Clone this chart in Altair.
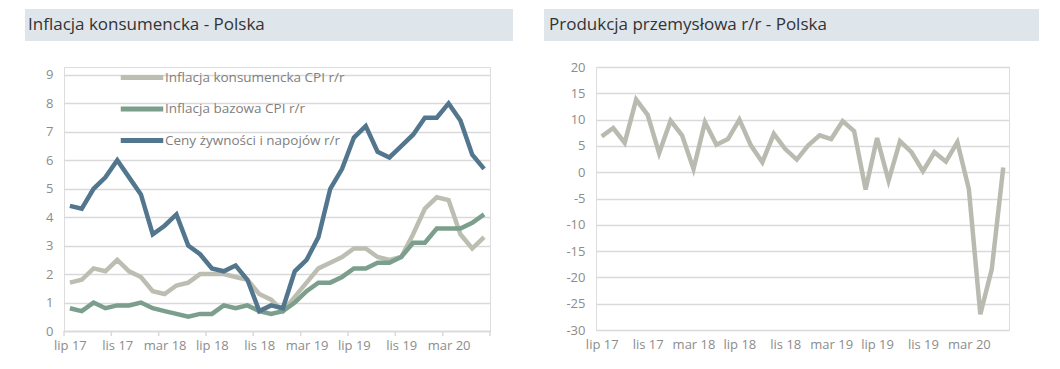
import altair as alt
import pandas as pd

# ---------------- data ----------------
months = ["lip 17", "sie 17", "wrz 17", "paź 17", "lis 17", "gru 17",
          "sty 18", "lut 18", "mar 18", "kwi 18", "maj 18", "cze 18",
          "lip 18", "sie 18", "wrz 18", "paź 18", "lis 18", "gru 18",
          "sty 19", "lut 19", "mar 19", "kwi 19", "maj 19", "cze 19",
          "lip 19", "sie 19", "wrz 19", "paź 19", "lis 19", "gru 19",
          "sty 20", "lut 20", "mar 20", "kwi 20", "maj 20", "cze 20"]

cpi = [1.7, 1.8, 2.2, 2.1, 2.5, 2.1, 1.9, 1.4, 1.3, 1.6, 1.7, 2.0,
       2.0, 2.0, 1.9, 1.8, 1.3, 1.1, 0.7, 1.2, 1.7, 2.2, 2.4, 2.6,
       2.9, 2.9, 2.6, 2.5, 2.6, 3.4, 4.3, 4.7, 4.6, 3.4, 2.9, 3.3]
core = [0.8, 0.7, 1.0, 0.8, 0.9, 0.9, 1.0, 0.8, 0.7, 0.6, 0.5, 0.6,
        0.6, 0.9, 0.8, 0.9, 0.7, 0.6, 0.7, 1.0, 1.4, 1.7, 1.7, 1.9,
        2.2, 2.2, 2.4, 2.4, 2.6, 3.1, 3.1, 3.6, 3.6, 3.6, 3.8, 4.1]
food = [4.4, 4.3, 5.0, 5.4, 6.0, 5.4, 4.8, 3.4, 3.7, 4.1, 3.0, 2.7,
        2.2, 2.1, 2.3, 1.8, 0.7, 0.9, 0.8, 2.1, 2.5, 3.3, 5.0, 5.7,
        6.8, 7.2, 6.3, 6.1, 6.5, 6.9, 7.5, 7.5, 8.0, 7.4, 6.2, 5.7]
prod = [6.8, 8.4, 5.6, 13.8, 10.9, 3.6, 9.8, 7.0, 0.6, 9.5, 5.2, 6.3,
        10.0, 5.1, 1.9, 7.3, 4.4, 2.4, 5.1, 7.0, 6.3, 9.7, 7.8, -3.3,
        6.5, -1.6, 5.9, 3.8, 0.2, 3.8, 2.0, 5.7, -3.2, -27.0, -18.4, 0.9]

series_names = ["Inflacja konsumencka CPI r/r",
                "Inflacja bazowa CPI r/r",
                "Ceny żywności i napojów r/r"]
series_colors = ["#bdbeb2", "#7c9e8c", "#52768d"]
prod_color = "#babbb0"

titles = ["Inflacja konsumencka - Polska", "Produkcja przemysłowa r/r - Polska"]
left_ticks = list(range(0, 10))
right_ticks = list(range(-30, 25, 5))
label_every = 4

# ---------------- styles ----------------
FONT = "Open Sans"
GRID = "#d9d9d9"
LABEL = "#8c8c8c"
BANNER = "#dfe6eb"

n = len(months)
idx = list(range(n))
label_expr = "[" + ",".join("'%s'" % m for m in months) + "][datum.value]"
x_scale = alt.Scale(domain=[-0.5, n - 0.5], nice=False, zero=False)


def x_axis(domain):
    return alt.Axis(values=list(range(0, n, label_every)), labelExpr=label_expr,
                    ticks=False, grid=False, domain=domain, domainColor=GRID,
                    domainWidth=1.5, labelPadding=8, labelFontSize=13,
                    labelColor=LABEL, labelFlush=False, labelOverlap=False,
                    title=None, labelFont=FONT)


def y_axis(values, expr=None):
    kw = dict(values=values, grid=True, gridColor=GRID, gridWidth=1.5,
              domain=False, ticks=False, labelPadding=11, labelFontSize=13,
              labelColor=LABEL, title=None, labelFont=FONT)
    if expr:
        kw["labelExpr"] = expr
    return alt.Axis(**kw)


# ---------------- left panel ----------------
LW, LH = 426, 264
rows = []
for name, vals in zip(series_names, [cpi, core, food]):
    for i, v in zip(idx, vals):
        rows.append({"i": i, "month": months[i], "series": name, "value": v})
df_left = pd.DataFrame(rows)

title_l = pd.DataFrame({"t": [titles[0]]})
banner_l = alt.Chart(title_l).mark_rect(color=BANNER).encode(
    x=alt.value(-39), x2=alt.value(449), y=alt.value(-58), y2=alt.value(-26))
text_l = alt.Chart(title_l).mark_text(align="left", baseline="middle", fontSize=17,
                                      font=FONT, color="#333333").encode(
    x=alt.value(-36), y=alt.value(-42), text="t:N")

lines_l = alt.Chart(df_left).mark_line(strokeWidth=4.5, strokeJoin="miter").encode(
    x=alt.X("i:Q", scale=x_scale, axis=x_axis(True)),
    y=alt.Y("value:Q", scale=alt.Scale(domain=[0, 9.28], nice=False),
            axis=y_axis(left_ticks)),
    color=alt.Color("series:N",
                    scale=alt.Scale(domain=series_names, range=series_colors),
                    legend=alt.Legend(orient="none", legendX=58.5, legendY=-9,
                                      title=None, symbolType="M-1.25,0H1.25",
                                      symbolSize=1156, symbolStrokeWidth=5,
                                      labelFontSize=13.5, labelColor="#808080",
                                      labelFont=FONT, labelOffset=3.5,
                                      labelLimit=400,
                                      rowPadding=1.5, padding=0,
                                      direction="vertical")),
    order=alt.Order("i:Q"),
)

bounds = pd.DataFrame({"b": [k - 0.5 for k in range(0, n + 1, label_every)]})
ticks_l = alt.Chart(bounds).mark_rule(color=GRID, strokeWidth=1.5).encode(
    x=alt.X("b:Q", scale=x_scale, axis=x_axis(True)),
    y=alt.value(LH), y2=alt.value(LH + 5))

left = alt.layer(banner_l, text_l, lines_l, ticks_l).properties(width=LW, height=LH)

# ---------------- right panel ----------------
RW, RH = 413, 263
df_right = pd.DataFrame({"i": idx, "month": months, "value": prod})
title_r = pd.DataFrame({"t": [titles[1]]})
banner_r = alt.Chart(title_r).mark_rect(color=BANNER).encode(
    x=alt.value(-52), x2=alt.value(443), y=alt.value(-58), y2=alt.value(-26))
text_r = alt.Chart(title_r).mark_text(align="left", baseline="middle", fontSize=17,
                                      font=FONT, color="#333333").encode(
    x=alt.value(-47), y=alt.value(-42), text="t:N")
line_r = alt.Chart(df_right).mark_line(strokeWidth=4.5, color=prod_color,
                                       strokeJoin="miter").encode(
    x=alt.X("i:Q", scale=x_scale, axis=x_axis(False)),
    y=alt.Y("value:Q", scale=alt.Scale(domain=[-30, 20], nice=False),
            axis=y_axis(right_ticks,
                        "datum.value < 0 ? '-' + abs(datum.value) : '' + datum.value")),
)
right = alt.layer(banner_r, text_r, line_r).properties(width=RW, height=RH)

chart = alt.hconcat(left, right, spacing=29).properties(
    padding={"left": 16, "top": 0, "right": 0, "bottom": 0}
).configure_view(stroke=None).configure(font=FONT)

chart.save("out.html", embed_options={"renderer": "svg", "actions": False})
